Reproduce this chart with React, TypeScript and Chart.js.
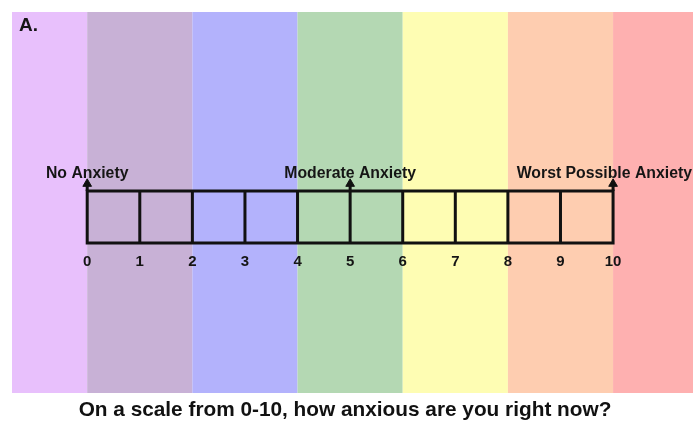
import React, { useEffect, useRef } from "react";
import { Chart, registerables } from "chart.js";

Chart.register(...registerables);

// ---- data ----
const scaleTicks = [0, 1, 2, 3, 4, 5, 6, 7, 8, 9, 10];
const tickLabels = ["0", "1", "2", "3", "4", "5", "6", "7", "8", "9", "10"];
const markerValues = [0, 5, 10];
const markerLabels = ["No Anxiety", "Moderate Anxiety", "Worst Possible Anxiety"];
const bandEdges = [-1.43, 0, 2, 4, 6, 8, 10, 11.52];
const bandColors = ["#E8C0FC", "#C8B1D6", "#B3B2FC", "#B4D8B3", "#FEFDB3", "#FECDB0", "#FEB0B0"];
const xMin = -1.43;
const xMax = 11.52;
const boxBottom = 39.4;
const boxTop = 53.0;
const arrowHead = 54.9;
const labelLevel = 57.7;
const tickLabelLevel = 34.4;
const panelLabel = "A.";
const chartTitle = "On a scale from 0-10, how anxious are you right now?";

const FONT = '"Liberation Sans", Arial, Helvetica, sans-serif';

export default function App() {
  const ref = useRef<HTMLCanvasElement | null>(null);

  useEffect(() => {
    if (!ref.current) return;

    const gridPoints: any[] = [];
    scaleTicks.forEach((t) => {
      gridPoints.push({ x: t, y: boxBottom });
      gridPoints.push({ x: t, y: boxTop });
      gridPoints.push({ x: t, y: null });
    });
    gridPoints.push({ x: scaleTicks[0], y: boxTop });
    gridPoints.push({ x: scaleTicks[scaleTicks.length - 1], y: boxTop });
    gridPoints.push({ x: scaleTicks[scaleTicks.length - 1], y: null });
    gridPoints.push({ x: scaleTicks[0], y: boxBottom });
    gridPoints.push({ x: scaleTicks[scaleTicks.length - 1], y: boxBottom });

    const stemPoints: any[] = [];
    markerValues.forEach((m) => {
      stemPoints.push({ x: m, y: boxTop });
      stemPoints.push({ x: m, y: arrowHead });
      stemPoints.push({ x: m, y: null });
    });

    const headPoints = markerValues.map((m) => ({ x: m, y: arrowHead }));

    const bandsPlugin = {
      id: "bands",
      beforeDatasetsDraw(chart: any) {
        const { ctx, chartArea, scales } = chart;
        ctx.save();
        for (let i = 0; i < bandColors.length; i++) {
          const x0 = scales.x.getPixelForValue(bandEdges[i]);
          const x1 = scales.x.getPixelForValue(bandEdges[i + 1]);
          ctx.fillStyle = bandColors[i];
          ctx.fillRect(x0, chartArea.top, x1 - x0, chartArea.bottom - chartArea.top);
        }
        ctx.restore();
      },
      afterDatasetsDraw(chart: any) {
        const { ctx, scales, width } = chart;
        ctx.save();
        ctx.fillStyle = "#151515";
        ctx.textBaseline = "middle";
        // tick labels
        ctx.font = `bold 15px ${FONT}`;
        ctx.textAlign = "center";
        scaleTicks.forEach((t, i) => {
          ctx.fillText(tickLabels[i], scales.x.getPixelForValue(t), scales.y.getPixelForValue(tickLabelLevel));
        });
        // marker labels
        ctx.font = `bold 15.8px ${FONT}`;
        markerValues.forEach((m, i) => {
          const w = ctx.measureText(markerLabels[i]).width;
          let cx = scales.x.getPixelForValue(m);
          cx = Math.min(cx, width - w / 2 - 1);
          ctx.fillText(markerLabels[i], cx, scales.y.getPixelForValue(labelLevel));
        });
        // panel label
        ctx.font = `bold 19px ${FONT}`;
        ctx.textAlign = "left";
        ctx.fillText(panelLabel, 19, 26);
        // title
        ctx.font = `bold 20.8px ${FONT}`;
        ctx.textAlign = "center";
        ctx.fillStyle = "#111";
        ctx.fillText(chartTitle, 345, 410);
        ctx.restore();
      },
    };

    const chart = new Chart(ref.current, {
      type: "scatter",
      data: {
        datasets: [
          {
            data: gridPoints,
            showLine: true,
            spanGaps: false,
            borderColor: "#111",
            borderWidth: 3,
            pointRadius: 0,
            borderCapStyle: "square",
          } as any,
          {
            data: stemPoints,
            showLine: true,
            spanGaps: false,
            borderColor: "#111",
            borderWidth: 3,
            pointRadius: 0,
          } as any,
          {
            data: headPoints,
            showLine: false,
            pointStyle: "triangle",
            pointRadius: 5,
            backgroundColor: "#111",
            borderColor: "#111",
            borderWidth: 1,
          } as any,
        ],
      },
      options: {
        animation: false,
        responsive: false,
        maintainAspectRatio: false,
        layout: { autoPadding: false, padding: { left: 12, top: 12, right: 0, bottom: 28 } },
        plugins: { legend: { display: false }, tooltip: { enabled: false }, title: { display: false } },
        scales: {
          x: { type: "linear", min: xMin, max: xMax, display: false },
          y: { type: "linear", min: 0, max: 100, display: false },
        },
      },
      plugins: [bandsPlugin],
    });
    return () => chart.destroy();
  }, []);

  return (
    <div style={{ position: "fixed", left: 0, top: 0, width: 693, height: 421, background: "#fff" }}>
      <canvas ref={ref} width={693} height={421} style={{ width: 693, height: 421 }} />
    </div>
  );
}
